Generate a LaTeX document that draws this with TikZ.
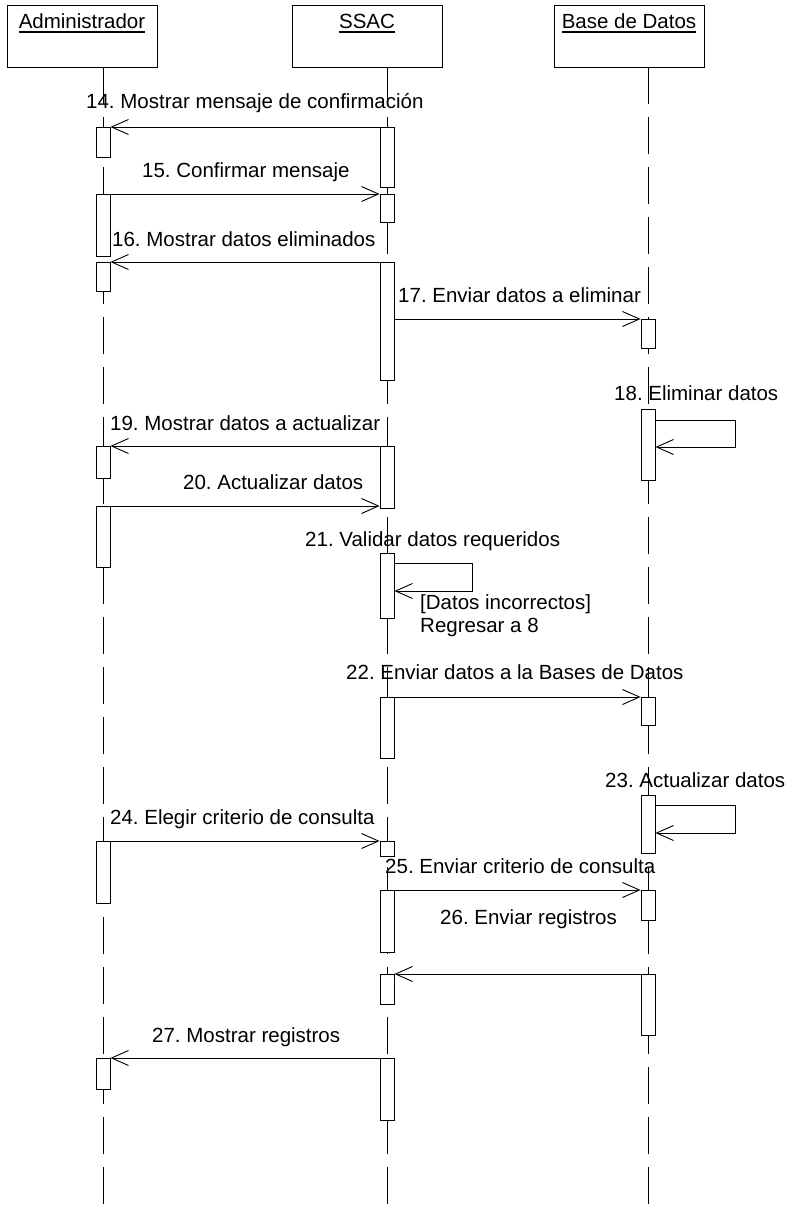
\documentclass[tikz,border=0pt]{standalone}
\usepackage{fontspec}
\setmainfont{Liberation Sans}
\usetikzlibrary{arrows.meta}
% underlined object name with a thick rule under the baseline
\newcommand\ulname[1]{\setbox0\hbox{#1}\rlap{\rule[-3.6pt]{\wd0}{1.6pt}}\box0}
\frenchspacing
\begin{document}
\begin{tikzpicture}[x=1pt,y=-1pt,
  font=\fontsize{20.5}{24}\selectfont,
  objbox/.style={draw, line width=0.9pt, minimum width=150pt, inner xsep=0pt,
    inner ysep=0pt, text height=24pt, text depth=38pt, anchor=base},
  lifeline/.style={line width=0.9pt, dash pattern=on 37pt off 13pt},
  actbar/.style={draw, fill=white, line width=0.8pt, minimum width=14pt,
    inner sep=0pt, anchor=north},
  msg/.style={line width=0.8pt,
    -{Straight Barb[length=17pt,width=15pt,line width=0.9pt]}},
  lbl/.style={anchor=base west, inner sep=0pt}]

\useasboundingbox (0,0) rectangle (793,1207);

% objects
\node[objbox] (adm)  at (82,29)  {\ulname{Administrador}};
\node[objbox] (ssac) at (367,29) {\ulname{SSAC}};
\node[objbox] (bd)   at (629,29) {\ulname{Base de Datos}};

% lifeline ends
\coordinate (xA) at (103,1207);
\coordinate (xS) at (387,1207);
\coordinate (xB) at (648,1207);
\draw[lifeline] (adm.south -| xA) -- (xA);
\draw[lifeline] (ssac.south -| xS) -- (xS);
\draw[lifeline] (bd.south -| xB) -- (xB);

% activation bars: Administrador
\node[actbar, minimum height=30pt] (a1) at (103,127) {};
\node[actbar, minimum height=62pt] (a2) at (103,194) {};
\node[actbar, minimum height=29pt] (a3) at (103,262) {};
\node[actbar, minimum height=32pt] (a4) at (103,446) {};
\node[actbar, minimum height=61pt] (a5) at (103,506) {};
\node[actbar, minimum height=62pt] (a6) at (103,841) {};
\node[actbar, minimum height=31pt] (a7) at (103,1058) {};

% activation bars: SSAC
\node[actbar, minimum height=60pt]  (s1)  at (387,127) {};
\node[actbar, minimum height=28pt]  (s2)  at (387,194) {};
\node[actbar, minimum height=118pt] (s3)  at (387,262) {};
\node[actbar, minimum height=62pt]  (s4)  at (387,446) {};
\node[actbar, minimum height=65pt]  (s5)  at (387,553) {};
\node[actbar, minimum height=61pt]  (s6)  at (387,697) {};
\node[actbar, minimum height=15pt]  (s7)  at (387,841) {};
\node[actbar, minimum height=62pt]  (s8)  at (387,890) {};
\node[actbar, minimum height=30pt]  (s9)  at (387,974) {};
\node[actbar, minimum height=62pt]  (s10) at (387,1058) {};

% activation bars: Base de Datos
\node[actbar, minimum height=29pt] (b1) at (648,319) {};
\node[actbar, minimum height=71pt] (b2) at (648,409) {};
\node[actbar, minimum height=28pt] (b3) at (648,697) {};
\node[actbar, minimum height=58pt] (b4) at (648,795) {};
\node[actbar, minimum height=30pt] (b5) at (648,890) {};
\node[actbar, minimum height=61pt] (b6) at (648,974) {};

% messages
\draw[msg] (s1.north west) -- (a1.north east);
\draw[msg] (a2.north east) -- (s2.north west);
\draw[msg] (s3.north west) -- (a3.north east);
\draw[msg] (s3.east |- b1.north) -- (b1.north west);
\draw[msg] ([yshift=-11pt]b2.north east) -- ++(80,0) -- ++(0,27)
  -- ([yshift=-38pt]b2.north east);
\draw[msg] (s4.north west) -- (a4.north east);
\draw[msg] (a5.north east) -- (s4.west |- a5.north);
\draw[msg] ([yshift=-10pt]s5.north east) -- ++(78,0) -- ++(0,28)
  -- ([yshift=-38pt]s5.north east);
\draw[msg] (s6.north east) -- (b3.north west);
\draw[msg] ([yshift=-10pt]b4.north east) -- ++(80,0) -- ++(0,28)
  -- ([yshift=-38pt]b4.north east);
\draw[msg] (a6.north east) -- (s7.north west);
\draw[msg] (s8.north east) -- (b5.north west);
\draw[msg] (b6.north west) -- (s9.north east);
\draw[msg] (s10.north west) -- (a7.north east);

% message labels
\node[lbl] (m14) at (86,108)  {14. Mostrar mensaje de confirmación};
\node[lbl] (m15) at (142,177) {15. Confirmar mensaje};
\node[lbl] (m16) at (112,246) {16. Mostrar datos eliminados};
\node[lbl] (m17) at (398,302) {17. Enviar datos a eliminar};
\node[lbl] (m18) at (614,400) {18. Eliminar datos};
\node[lbl] (m19) at (110,430) {19. Mostrar datos a actualizar};
\node[lbl] (m20) at (183,489) {20. Actualizar datos};
\node[lbl] (m21) at (305,546) {21. Validar datos requeridos};
\node[lbl] (g21) at (420,609) {[Datos incorrectos]};
\node[lbl] (r21) at (420,632) {Regresar a 8};
\node[lbl] (m22) at (346,679) {22. Enviar datos a la Bases de Datos};
\node[lbl] (m23) at (605,787) {23. Actualizar datos};
\node[lbl] (m24) at (110,824) {24. Elegir criterio de consulta};
\node[lbl] (m25) at (385,873) {25. Enviar criterio de consulta};
\node[lbl] (m26) at (440,924) {26. Enviar registros};
\node[lbl] (m27) at (152,1042) {27. Mostrar registros};
\end{tikzpicture}
\end{document}
